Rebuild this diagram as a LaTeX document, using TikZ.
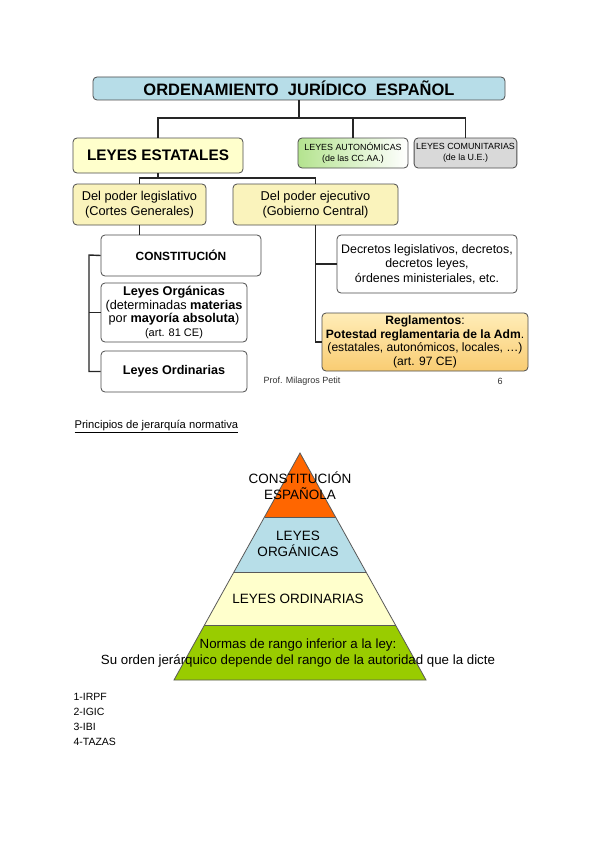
\documentclass[tikz,border=0pt]{standalone}
\usepackage{fontspec}
\setmainfont{Liberation Sans}
\usetikzlibrary{positioning, calc}
\definecolor{ojblue}{HTML}{B7DDE8}
\definecolor{ojyellow}{HTML}{FFFFCC}
\definecolor{ojcream}{HTML}{FAF3BC}
\definecolor{ojgreen}{HTML}{B4E38F}
\definecolor{ojgray}{HTML}{D9D9D9}
\definecolor{ojgoldtop}{HTML}{FFEDB8}
\definecolor{ojgoldbot}{HTML}{F9CC72}
\definecolor{pyorange}{HTML}{FF6600}
\definecolor{pyblue}{HTML}{B7DEE8}
\definecolor{pyyellow}{HTML}{FFFFCC}
\definecolor{pygreen}{HTML}{99CC00}

\begin{document}
\begin{tikzpicture}[x=1pt, y=-1pt,
  box/.style={rectangle, rounded corners=4pt, draw=black!70, line width=0.8pt, align=center, inner sep=2pt},
  link/.style={line width=1.4pt, black!85},
  layer/.style={draw=black!65, line width=0.8pt},
  ptext/.style={align=center, font=\fontsize{13.5}{16}\selectfont},
]
\useasboundingbox[fill=white] (0,0) rectangle (600,848);
% slide: ordenamiento
\node[box, fill=ojblue, minimum width=412pt, minimum height=23pt, font=\bfseries\fontsize{16.5}{18}\selectfont] (ordena) at (299,88.5) {ORDENAMIENTO\ \ JURÍDICO\ \ ESPAÑOL};
\node[box, fill=ojyellow, minimum width=170pt, minimum height=35pt, font=\bfseries\fontsize{15.3}{17}\selectfont] (estatales) at (158,155.5) {LEYES ESTATALES};
\node[box, left color=ojgreen, right color=white, minimum width=110pt, minimum height=30pt, font=\fontsize{8.9}{10.8}\selectfont] (autonom) at (353,153) {LEYES AUTONÓMICAS\\(de las CC.AA.)};
\node[box, fill=ojgray, minimum width=101pt, minimum height=30pt, font=\fontsize{8.9}{10.8}\selectfont] (comunit) at (465.5,153) {LEYES COMUNITARIAS\\(de la U.E.)};
\node[box, fill=ojcream, minimum width=133pt, minimum height=41pt, font=\fontsize{12.8}{15}\selectfont] (legis) at (139.5,204.5) {Del poder legislativo\\(Cortes Generales)};
\node[box, fill=ojcream, minimum width=165pt, minimum height=41pt, font=\fontsize{12.8}{15}\selectfont] (ejec) at (315.5,204.5) {Del poder ejecutivo\\(Gobierno Central)};
\node[box, fill=white, minimum width=160pt, minimum height=41pt, font=\bfseries\fontsize{11.9}{14}\selectfont] (constit) at (181,255.5) {CONSTITUCIÓN};
\node[box, fill=white, minimum width=146pt, minimum height=59pt, font=\fontsize{12.7}{13.8}\selectfont] (organicas) at (174,312.5) {\textbf{Leyes Orgánicas}\\(determinadas \textbf{materias}\\por \textbf{mayoría absoluta})\\{\fontsize{11}{12}\selectfont(art. 81 CE)}};
\node[box, fill=white, minimum width=146pt, minimum height=41pt, font=\bfseries\fontsize{12.6}{14}\selectfont] (ordinarias) at (174,371.5) {Leyes Ordinarias};
\node[box, fill=white, minimum width=180pt, minimum height=58pt, font=\fontsize{12.4}{14.5}\selectfont] (decretos) at (427,264) {Decretos legislativos, decretos,\\decretos leyes,\\órdenes ministeriales, etc.};
\node[box, top color=ojgoldtop, bottom color=ojgoldbot, minimum width=206pt, minimum height=58pt, font=\fontsize{12.1}{13.5}\selectfont] (reglam) at (425,342) {\textbf{Reglamentos}:\\\textbf{Potestad reglamentaria de la Adm}.\\(estatales, autonómicos, locales, …)\\(art. 97 CE)};
\node[font=\fontsize{9}{10}\selectfont, text=black!80] (petit) at (302,381) {Prof. Milagros Petit};
\node[font=\fontsize{9}{10}\selectfont, text=black!80] (pagina) at (500,381) {6};
% connectors
\coordinate (bus) at (299,118);
\coordinate (rama) at (158,178);
\coordinate (lbar) at (89,255);
\draw[link] (ordena.south) -- (bus);
\draw[link] (estatales.north) |- (bus) -| (comunit.north);
\draw[link] (autonom.north) -- (autonom.north |- bus);
\draw[link] (estatales.south) -- (rama);
\draw[link] (legis.north) |- (rama) -| (ejec.north);
\draw[link] (legis.south) -- (legis.south |- constit.north);
\draw[link] (constit.west) -- (lbar) |- (ordinarias.west);
\draw[link] (organicas.west) -- (organicas.west -| lbar);
\draw[link] (ejec.south) |- (reglam.west);
\draw[link] (decretos.west) -- (decretos.west -| ejec.south);
% piramide
\node[anchor=west, font=\fontsize{11.2}{13}\selectfont] (princ) at (71,427) {\underline{Principios de jerarquía normativa}};
\fill[pyorange] (300,453) -- (335.5,517) -- (264.5,517) -- cycle;
\fill[pyblue] (264.5,517) -- (335.5,517) -- (366,572) -- (234,572) -- cycle;
\fill[pyyellow] (234,572) -- (366,572) -- (395.5,625) -- (204.5,625) -- cycle;
\fill[pygreen] (204.5,625) -- (395.5,625) -- (426,680) -- (174,680) -- cycle;
\draw[layer] (300,453) -- (426,680) -- (174,680) -- cycle;
\draw[layer] (264.5,517) -- (335.5,517);
\draw[layer] (234,572) -- (366,572);
\draw[layer] (204.5,625) -- (395.5,625);
\node[ptext] (py1) at (300,485.5) {CONSTITUCIÓN\\ESPAÑOLA};
\node[ptext] (py2) at (298,544) {LEYES\\ORGÁNICAS};
\node[ptext] (py3) at (298,599) {LEYES ORDINARIAS};
\node[ptext, font=\fontsize{13.3}{16}\selectfont] (py4) at (298,653) {Normas de rango inferior a la ley:\\Su orden jerárquico depende del rango de la autoridad que la dicte};
\node[anchor=north west, align=left, font=\fontsize{10.5}{14.8}\selectfont] (lista) at (70,690) {1-IRPF\\2-IGIC\\3-IBI\\4-TAZAS};
\end{tikzpicture}
\end{document}
